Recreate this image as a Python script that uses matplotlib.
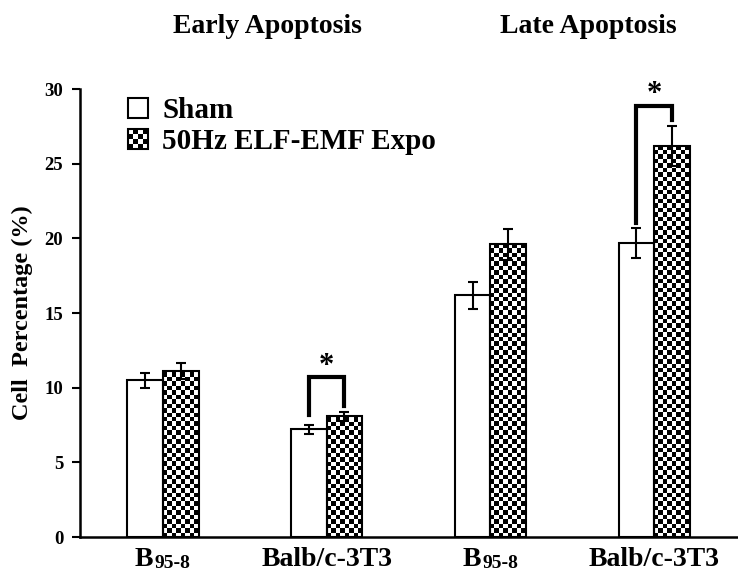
import matplotlib
matplotlib.use("Agg")
import matplotlib.pyplot as plt
import numpy as np
from matplotlib.patches import Rectangle
from matplotlib.legend_handler import HandlerBase
from matplotlib.transforms import blended_transform_factory

plt.rcParams['font.family'] = ['Liberation Serif', 'DejaVu Serif']
plt.rcParams['font.weight'] = 'bold'
plt.rcParams['axes.labelweight'] = 'bold'

# cell lines per panel (early apoptosis: first two, late apoptosis: last two)
cell_lines = ['B', 'Balb/c-3T3', 'B', 'Balb/c-3T3']
cell_subs = ['95-8', '', '95-8', '']
sham = [10.5, 7.2, 16.2, 19.7]
sham_err = [0.5, 0.33, 0.9, 1.0]
expo = [11.1, 8.1, 19.6, 26.2]
expo_err = [0.55, 0.3, 1.05, 1.35]
significant = [1, 3]
panel_titles = ['Early Apoptosis', 'Late Apoptosis']


class CheckerHandler(HandlerBase):
    # small checkerboard square for the legend
    def create_artists(self, legend, orig_handle, xdescent, ydescent,
                       width, height, fontsize, trans):
        s = height
        x0, y0 = -xdescent, -ydescent
        arts = []
        n = 4
        c = s / n
        for i in range(n):
            for j in range(n):
                if (i + j) % 2 == 0:
                    arts.append(Rectangle((x0 + i * c, y0 + j * c), c, c,
                                          facecolor='black', edgecolor='none',
                                          transform=trans))
        arts.append(Rectangle((x0, y0), s, s, facecolor='none',
                              edgecolor='black', lw=1.5, transform=trans))
        return arts


class SquareHandler(HandlerBase):
    def create_artists(self, legend, orig_handle, xdescent, ydescent,
                       width, height, fontsize, trans):
        s = height
        return [Rectangle((-xdescent, -ydescent), s, s, facecolor='white',
                          edgecolor='black', lw=1.5, transform=trans)]


fig = plt.figure(figsize=(7.38, 5.73), dpi=100)
ax = fig.add_axes([80 / 738, 36 / 573, 658 / 738, 448 / 573])

x = np.arange(len(sham))
w = 0.217
ax.set_xlim(-0.507, 3.513)
ax.set_ylim(0, 30)

sham_bars = ax.bar(x - w / 2, sham, w, facecolor='white', edgecolor='black',
                   lw=1.5, zorder=3)
expo_bars = ax.bar(x + w / 2, expo, w, facecolor='none', edgecolor='black',
                   lw=1.5, zorder=3)

# checkerboard fill for the exposed bars
px_x = ax.transData.transform((1, 0))[0] - ax.transData.transform((0, 0))[0]
px_y = ax.transData.transform((0, 1))[1] - ax.transData.transform((0, 0))[1]
for bar in expo_bars:
    bx, bw, bh = bar.get_x(), bar.get_width(), bar.get_height()
    nx = 8
    cell_px = bw * px_x / nx
    cell_y = cell_px / px_y
    ny = int(np.ceil(bh / cell_y))
    board = (np.add.outer(np.arange(ny), np.arange(nx)) % 2).astype(float)
    im = ax.imshow(board, cmap='gray', vmin=0, vmax=1, origin='lower',
                   extent=(bx, bx + bw, 0, ny * cell_y), aspect='auto',
                   interpolation='nearest', zorder=2)
    im.set_clip_path(bar)

ax.set_xlim(-0.507, 3.513)
ax.set_ylim(0, 30)

ax.errorbar(x - w / 2, sham, yerr=sham_err, fmt='none', ecolor='black',
            elinewidth=1.5, capsize=3.5, capthick=1.5, zorder=4)
ax.errorbar(x + w / 2, expo, yerr=expo_err, fmt='none', ecolor='black',
            elinewidth=1.5, capsize=3.5, capthick=1.5, zorder=4)

# significance brackets
for g in significant:
    lo_l = sham[g] + sham_err[g] + (0.67 if g == 1 else 0.3)
    lo_r = expo[g] + expo_err[g] + 0.4
    top = lo_r + (1.9 if g == 1 else 0.9)
    xl, xr = g - w / 2, g + w / 2
    ax.plot([xl, xl, xr, xr], [lo_l, top, top, lo_r], color='black', lw=3,
            solid_joinstyle='miter', zorder=4, clip_on=False)
    ax.text(g, top + 0.75, '*', ha='center', va='center', fontsize=22,
            clip_on=False)

for side in ['top', 'right']:
    ax.spines[side].set_visible(False)
for side in ['left', 'bottom']:
    ax.spines[side].set_linewidth(1.8)

ax.set_yticks([0, 5, 10, 15, 20, 25, 30])
ax.tick_params(axis='y', direction='out', length=6, width=1.5, labelsize=13.5,
               pad=6)
for lbl in ax.get_yticklabels():
    lbl.set_fontweight('bold')
ax.set_xticks([])

ax.set_ylabel('Cell  Percentage (%)', fontsize=17.5, fontweight='bold')
ax.yaxis.set_label_coords(-0.072, 0.5)

# category labels under the bars, with subscript strain numbers
tr = blended_transform_factory(ax.transData, ax.transAxes)
base = -21
for i, (name, sub) in enumerate(zip(cell_lines, cell_subs)):
    if sub:
        ax.annotate(name, (x[i], 0), xycoords=tr, xytext=(-7, base),
                    textcoords='offset points', ha='right', va='baseline',
                    fontsize=20, annotation_clip=False)
        ax.annotate(sub, (x[i], 0), xycoords=tr, xytext=(-6, base - 1),
                    textcoords='offset points', ha='left', va='baseline',
                    fontsize=14, annotation_clip=False)
    else:
        ax.annotate(name, (x[i], 0), xycoords=tr, xytext=(0, base),
                    textcoords='offset points', ha='center', va='baseline',
                    fontsize=20, annotation_clip=False)

fig.text(267 / 738, 1 - 33 / 573, panel_titles[0], ha='center',
         va='baseline', fontsize=20)
fig.text(588 / 738, 1 - 33 / 573, panel_titles[1], ha='center',
         va='baseline', fontsize=20)

h_sham = Rectangle((0, 0), 1, 1)
h_expo = Rectangle((0, 0), 1, 1)
ax.legend([h_sham, h_expo], ['Sham', '50Hz ELF-EMF Expo'],
          handler_map={h_sham: SquareHandler(), h_expo: CheckerHandler()},
          loc='upper left', bbox_to_anchor=(128 / 738, 1 - 97 / 573),
          bbox_transform=fig.transFigure, frameon=False, fontsize=21,
          handlelength=0.68, handleheight=0.68, handletextpad=0.5,
          labelspacing=0.15, borderpad=0, borderaxespad=0)

fig.savefig('out.png', dpi=100)
